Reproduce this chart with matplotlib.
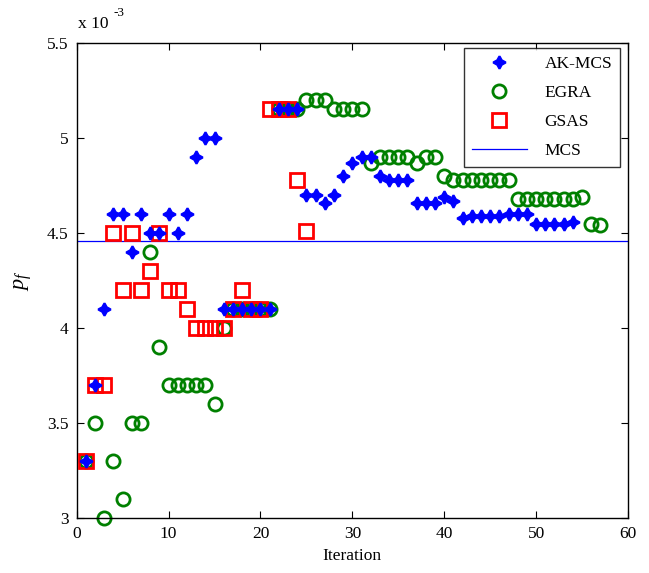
import numpy as np
import matplotlib
matplotlib.use("Agg")
import matplotlib.pyplot as plt
from matplotlib.lines import Line2D

plt.rcParams['font.family'] = ['Liberation Serif', 'DejaVu Serif']
plt.rcParams['mathtext.fontset'] = 'custom'
plt.rcParams['mathtext.it'] = 'Liberation Serif:italic'
plt.rcParams['mathtext.rm'] = 'Liberation Serif'

# failure probability estimates per iteration (units of 1e-3)
ak_iter = list(range(1, 55))
ak_pf = [3.3, 3.7, 4.1, 4.6, 4.6, 4.4, 4.6, 4.5, 4.5, 4.6,
         4.5, 4.6, 4.9, 5.0, 5.0, 4.1, 4.1, 4.1, 4.1, 4.1,
         4.1, 5.15, 5.15, 5.15, 4.7, 4.7, 4.66, 4.7, 4.8, 4.87,
         4.9, 4.9, 4.8, 4.78, 4.78, 4.78, 4.66, 4.66, 4.66, 4.69,
         4.67, 4.58, 4.59, 4.59, 4.59, 4.59, 4.6, 4.6, 4.6, 4.55,
         4.55, 4.55, 4.55, 4.56]

egra_iter = list(range(1, 58))
egra_pf = [3.3, 3.5, 3.0, 3.3, 3.1, 3.5, 3.5, 4.4, 3.9, 3.7,
           3.7, 3.7, 3.7, 3.7, 3.6, 4.0, 4.1, 4.1, 4.1, 4.1,
           4.1, 5.15, 5.15, 5.15, 5.2, 5.2, 5.2, 5.15, 5.15, 5.15,
           5.15, 4.87, 4.9, 4.9, 4.9, 4.9, 4.87, 4.9, 4.9, 4.8,
           4.78, 4.78, 4.78, 4.78, 4.78, 4.78, 4.78, 4.68, 4.68, 4.68,
           4.68, 4.68, 4.68, 4.68, 4.69, 4.55, 4.54]

gsas_iter = list(range(1, 26))
gsas_pf = [3.3, 3.7, 3.7, 4.5, 4.2, 4.5, 4.2, 4.3, 4.5, 4.2,
           4.2, 4.1, 4.0, 4.0, 4.0, 4.0, 4.1, 4.2, 4.1, 4.1,
           5.15, 5.15, 5.15, 4.78, 4.51]

mcs_pf = 4.46

x_ticks = [0, 10, 20, 30, 40, 50, 60]
y_ticks = [3, 3.5, 4, 4.5, 5, 5.5]
y_tick_labels = ['3', '3.5', '4', '4.5', '5', '5.5']

W, H = 649, 573
fig = plt.figure(figsize=(W / 100, H / 100), dpi=100)
ax = fig.add_axes([76.7 / W, (H - 518) / H, (628 - 76.7) / W, (518 - 43) / H])

star = (4, 1, 0)
ak_style = dict(marker=star, ms=9, mfc='#0000ff', mec='#0000ff', mew=1.6)
egra_style = dict(marker='o', ms=9.5, mfc='none', mec='#008000', mew=2.0)
gsas_style = dict(marker='s', ms=9.5, mfc='none', mec='#ff0000', mew=2.0)

ax.axhline(mcs_pf, color='#0000ff', lw=0.9, zorder=1)
ax.plot(egra_iter, egra_pf, ls='none', clip_on=False, zorder=2, **egra_style)
ax.plot(gsas_iter, gsas_pf, ls='none', clip_on=False, zorder=3, **gsas_style)
ax.plot(ak_iter, ak_pf, ls='none', clip_on=False, zorder=4, **ak_style)

ax.set_xlim(0, 60)
ax.set_ylim(3, 5.5)
ax.set_xticks(x_ticks)
ax.set_yticks(y_ticks)
ax.set_yticklabels(y_tick_labels)
ax.tick_params(direction='in', length=5, width=0.8, labelsize=12.5,
               top=True, right=True, pad=6)
for s in ax.spines.values():
    s.set_linewidth(1.0)

ax.set_xlabel('Iteration', fontsize=12.5, labelpad=4)
ax.set_ylabel('$p_f$', fontsize=16, labelpad=9)

fig.text(78 / W, 1 - 28 / H, 'x 10', fontsize=12.5, ha='left', va='baseline')
fig.text(113 / W, 1 - 16 / H, '-3', fontsize=9.5, ha='left', va='baseline')

handles = [
    Line2D([], [], ls='none', **ak_style),
    Line2D([], [], ls='none', **egra_style),
    Line2D([], [], ls='none', **gsas_style),
    Line2D([], [], color='#0000ff', lw=0.9),
]
leg = ax.legend(handles, ['AK-MCS', 'EGRA', 'GSAS', 'MCS'], loc='upper right',
                bbox_to_anchor=(1 - 8 / 551.3, 1 - 5 / 475), fontsize=12.5,
                frameon=True, fancybox=False, edgecolor='black',
                handlelength=3.2, labelspacing=0.75, borderpad=0.45,
                handletextpad=1.0, borderaxespad=0)
leg.get_frame().set_linewidth(1.0)

fig.savefig('out.png', dpi=100)
